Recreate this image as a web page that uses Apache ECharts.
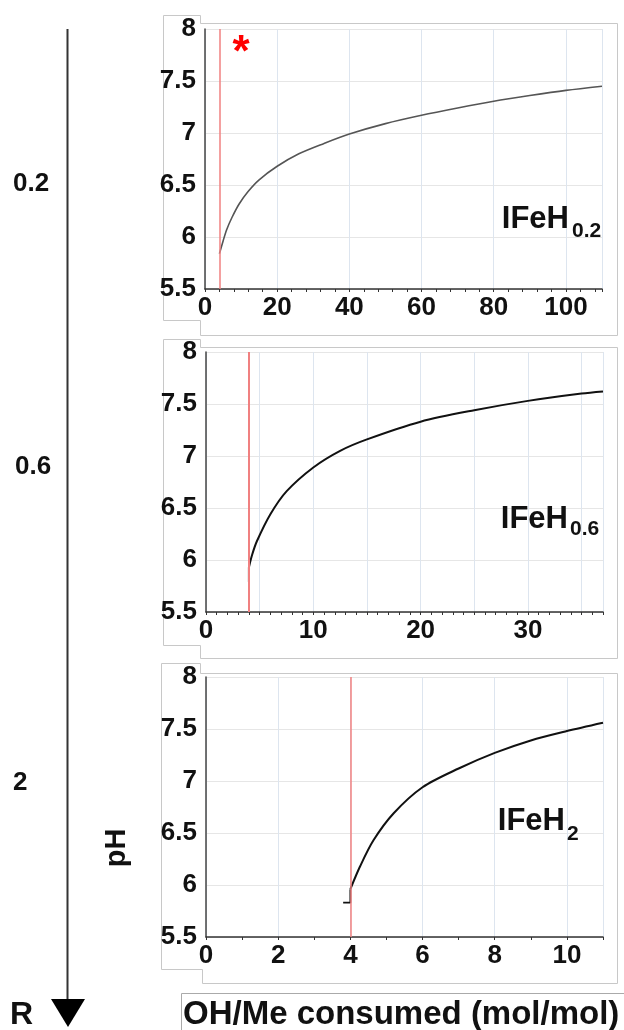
<!DOCTYPE html>
<html><head><meta charset="utf-8">
<script src="https://cdn.jsdelivr.net/npm/echarts@6/dist/echarts.min.js"></script>
<style>html,body{margin:0;padding:0;background:#fff}#c{width:624px;height:1030px}</style>
</head><body><div id="c"></div>
<script>
// ---- data ----
const rLabels = ['0.2', '0.6', '2'];
const panelMain = ['IFeH', 'IFeH', 'IFeH'];
const panelSub = ['0.2', '0.6', '2'];
const yMin = 5.5, yMax = 8, yStep = 0.5;
const xMaxes = [110, 37, 11];
const xSteps = [20, 5, 2];
const xLabelSteps = [20, 10, 2];
const xMinorSplits = [5, 5, 2];
const markerX = [4, 4, 4];

const x1 = [4, 5, 6, 7.5, 9.5, 12, 15, 20, 26, 33, 40, 50, 60, 70, 80, 90, 100, 110];
const y1 = [5.84, 5.96, 6.07, 6.19, 6.32, 6.44, 6.55, 6.68, 6.80, 6.90, 6.99, 7.09, 7.17, 7.24, 7.305, 7.36, 7.41, 7.45];

const jump2X = [4, 4];
const jump2Y = [5.79, 5.93];
const x2 = [4, 4.3, 4.74, 6, 7.5, 10, 12.5, 15, 20, 25, 30, 35, 37];
const y2 = [5.93, 6.05, 6.18, 6.44, 6.66, 6.89, 7.05, 7.16, 7.33, 7.44, 7.53, 7.60, 7.62];

const jump3X = [3.8, 4, 4];
const jump3Y = [5.83, 5.83, 5.96];
const x3 = [4, 4.27, 4.64, 5.2, 6, 7, 8, 9, 10, 11];
const y3 = [5.96, 6.18, 6.43, 6.69, 6.94, 7.12, 7.27, 7.39, 7.48, 7.56];

const xTitle = 'OH/Me consumed (mol/mol)';
const yTitle = 'pH';
const arrowLabel = 'R';

// ---- chart ----
const FONT = 'Liberation Sans, Arial, Helvetica, sans-serif';
const pair = (xs, ys) => xs.map((x, i) => [x, ys[i]]);
const grids = [
  {left: 205, top: 29, width: 397, height: 260},
  {left: 206, top: 352, width: 397, height: 260},
  {left: 206, top: 677, width: 397, height: 260}
];
const labelStyle = {fontSize: 26, fontWeight: 'bold', color: '#111', fontFamily: FONT};

const xAxes = grids.map((g, i) => ({
  gridIndex: i, type: 'value', min: 0, max: xMaxes[i], interval: xSteps[i],
  axisLine: {show: true, lineStyle: {color: '#333', width: 1.5}},
  axisTick: {show: true, length: 3, lineStyle: {color: '#333'}},
  minorTick: {show: true, splitNumber: xMinorSplits[i], length: 3, lineStyle: {color: '#333'}},
  splitLine: {show: true, lineStyle: {color: '#dde5ef', width: 1}},
  axisLabel: Object.assign({}, labelStyle, {
    margin: 6, showMaxLabel: false,
    formatter: v => (Math.abs(v / xLabelSteps[i] - Math.round(v / xLabelSteps[i])) < 1e-6 ? String(v) : '')
  })
}));
const yAxes = grids.map((g, i) => ({
  gridIndex: i, type: 'value', min: yMin, max: yMax, interval: yStep,
  axisLine: {show: true, lineStyle: {color: '#444', width: 1.5}},
  axisTick: {show: false},
  splitLine: {show: true, lineStyle: {color: '#e6e6e6', width: 1}},
  axisLabel: Object.assign({}, labelStyle, {margin: 9})
}));

function redLine(i, w) {
  return {
    silent: true, symbol: ['none', 'none'], label: {show: false},
    lineStyle: {color: '#f08080', width: w, type: 'solid'},
    data: [{xAxis: markerX[i]}]
  };
}
const curve = (i, data, color, w, smooth, extra) => Object.assign({
  type: 'line', xAxisIndex: i, yAxisIndex: i, data, symbol: 'none',
  smooth: smooth,
  lineStyle: {color, width: w}, silent: true, z: 3
}, extra || {});

const series = [
  curve(0, pair(x1, y1), '#555', 1.6, 0.3, {markLine: redLine(0, 1.5)}),
  curve(1, pair(jump2X, jump2Y), '#111', 2, false),
  curve(1, pair(x2, y2), '#111', 2, 0.3, {markLine: redLine(1, 2)}),
  curve(2, pair(jump3X, jump3Y), '#111', 1.8, false),
  curve(2, pair(x3, y3), '#111', 2, 0.3, {markLine: redLine(2, 1.5)})
];

function txt(text, x, y, size, opts) {
  opts = opts || {};
  return {
    type: 'text', x, y, rotation: opts.rotation || 0, z: 10, silent: true,
    style: {
      text, fill: opts.color || '#111',
      font: 'bold ' + size + 'px ' + FONT,
      fontSize: size, fontWeight: 'bold', fontFamily: FONT,
      align: opts.align || 'left', verticalAlign: 'middle',
      textAlign: opts.align || 'left', textVerticalAlign: 'middle'
    }
  };
}
const frameStyle = {fill: 'none', stroke: '#c8c8c8', lineWidth: 1};
const frames = [
  [[163.5,15.5],[200.5,15.5],[200.5,23.5],[617.5,23.5],[617.5,335.5],[200.5,335.5],[200.5,320.5],[163.5,320.5]],
  [[163.5,339.5],[200.5,339.5],[200.5,347.5],[617.5,347.5],[617.5,658.5],[200.5,658.5],[200.5,645.5],[163.5,645.5]],
  [[161.5,663.5],[200.5,663.5],[200.5,673.5],[617.5,673.5],[617.5,983.5],[202.5,983.5],[202.5,969.5],[161.5,969.5]]
];
const graphic = [];
frames.forEach(p => graphic.push({type: 'polygon', shape: {points: p}, style: frameStyle, silent: true, z: 0}));
graphic.push({type: 'rect', shape: {x: 181.5, y: 993.5, width: 480, height: 60}, style: {fill: 'none', stroke: '#aaa', lineWidth: 1}, silent: true});
graphic.push({type: 'line', shape: {x1: 67.5, y1: 29, x2: 67.5, y2: 1002}, style: {stroke: '#333', lineWidth: 2}, silent: true});
graphic.push({type: 'polygon', shape: {points: [[51, 999], [85, 999], [68, 1027]]}, style: {fill: '#000'}, silent: true});

// panel labels
const mainPos = [[569, 219], [568, 519], [565, 821]];
const subPos = [[572, 231], [570, 529], [567, 834]];
panelMain.forEach((t, i) => {
  graphic.push(txt(t, mainPos[i][0], mainPos[i][1], 31, {align: 'right'}));
  graphic.push(txt(panelSub[i], subPos[i][0], subPos[i][1], 21));
});
// R labels on left
const rPos = [[13, 184], [15, 467], [13, 783]];
rLabels.forEach((t, i) => graphic.push(txt(t, rPos[i][0], rPos[i][1], 26)));
graphic.push(txt(arrowLabel, 10, 1015, 32));
graphic.push(txt(xTitle, 183, 1015, 33));
graphic.push(txt(yTitle, 117, 848, 29, {align: 'center', rotation: Math.PI / 2}));
graphic.push(txt('*', 241, 54, 44, {align: 'center', color: '#ff0000'}));

const chart = echarts.init(document.getElementById('c'), null, {renderer: 'canvas'});
chart.setOption({
  animation: false,
  backgroundColor: '#fff',
  grid: grids,
  xAxis: xAxes,
  yAxis: yAxes,
  series,
  graphic
});
</script>
</body></html>
